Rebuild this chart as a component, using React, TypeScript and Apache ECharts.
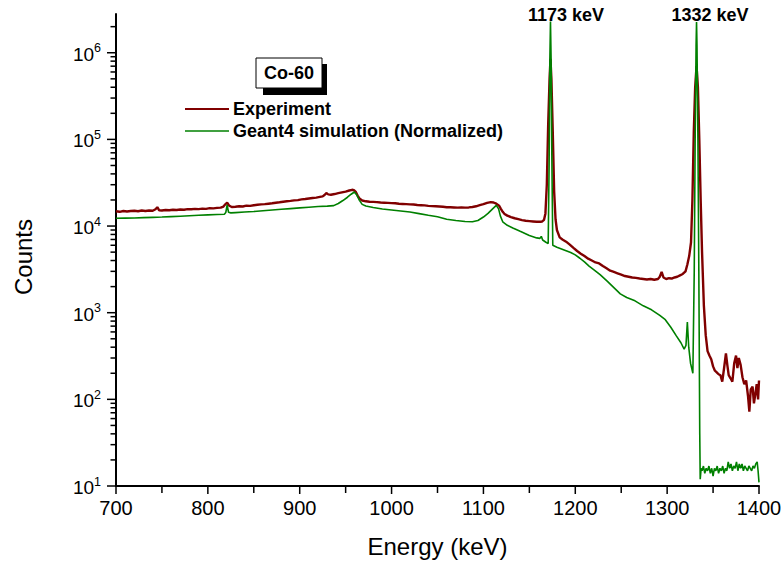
import { useEffect, useRef } from 'react';
import * as echarts from 'echarts';

const FONT = '"Liberation Sans", Arial, Helvetica, sans-serif';

const experiment: [number, number][] = [
  [700,14800],[704,14600],[708,14900],[712,14700],[716,14900],[720,15000],[724,14800],[728,15100],[732,14900],[736,15100],[740,15000],[743,15600],[745,16500],[747,15200],[750,15100],[754,15300],[758,15200],[762,15400],[766,15300],[770,15500],[774,15400],[778,15700],[782,15600],[786,15800],[790,15700],[794,15900],[798,15800],[802,16100],[806,16000],[810,16200],[814,16300],[817,16800],[819,17800],[821,18600],[823,17300],[826,16600],[830,16700],[834,16900],[838,16800],[842,17200],[846,17100],[850,17400],[854,17600],[858,17800],[862,17900],[866,18100],[870,18300],[874,18600],[878,18800],[882,19100],[886,19300],[890,19500],[894,19800],[898,19900],[902,20300],[906,20500],[910,20800],[914,21100],[918,21300],[922,21700],[925,22000],[927,22800],[929,24000],[931,23200],[934,23000],[938,23400],[942,24000],[946,24500],[950,25000],[954,25700],[957,26200],[959,26000],[961,24800],[963,22500],[965,20800],[968,19700],[972,19300],[976,19100],[980,19000],[984,18900],[988,18700],[992,18600],[996,18500],[1000,18400],[1004,18300],[1008,18100],[1012,18000],[1016,17900],[1020,17800],[1024,17700],[1028,17500],[1032,17400],[1036,17300],[1040,17100],[1044,17000],[1048,16900],[1052,16800],[1056,16700],[1060,16500],[1064,16500],[1068,16400],[1072,16300],[1076,16400],[1080,16300],[1084,16400],[1088,16600],[1092,16900],[1096,17400],[1100,17900],[1104,18500],[1108,18900],[1111,18700],[1114,18100],[1117,17200],[1119,15800],[1121,14600],[1123,13800],[1126,13200],[1130,12700],[1134,12300],[1138,12000],[1142,11700],[1146,11500],[1150,11400],[1154,11300],[1158,11200],[1162,11200],[1164,11300],[1166,11800],[1167.5,14000],[1169,30000],[1170.5,150000],[1172,500000],[1173,850000],[1174,500000],[1175.5,120000],[1177,25000],[1178.5,12000],[1180,9000],[1183,7400],[1186,7000],[1190,6600],[1194,6100],[1198,5600],[1202,5150],[1206,4800],[1210,4500],[1214,4200],[1218,4000],[1222,3800],[1226,3700],[1230,3450],[1234,3250],[1238,3050],[1242,2950],[1246,2850],[1250,2750],[1254,2650],[1258,2600],[1262,2550],[1266,2520],[1270,2480],[1274,2450],[1278,2420],[1282,2450],[1286,2400],[1290,2450],[1292,2600],[1294,2950],[1296,2550],[1299,2450],[1302,2500],[1305,2480],[1308,2550],[1311,2600],[1314,2700],[1317,2800],[1320,3000],[1322,3600],[1324,4500],[1326,6500],[1327.5,20000],[1329,120000],[1330.5,400000],[1332,700000],[1333.5,400000],[1335,100000],[1336.5,20000],[1338,5000],[1340,1200],[1342,550],[1344,360],[1346,320],[1348,290],[1350,240],[1352,214],[1354,205],[1356,195],[1358,190],[1360,160],[1362,230],[1364,340],[1365.5,250],[1367,190],[1369,175],[1371,160],[1373,260],[1375,320],[1376.5,230],[1378,300],[1380,250],[1382,180],[1384,150],[1386,165],[1388,110],[1389.5,72],[1391,130],[1393,140],[1394.5,90],[1396,115],[1397.5,150],[1399,100],[1400,165],
];

const simulation: [number, number][] = [
  [700,12300],[710,12350],[720,12400],[730,12500],[740,12600],[750,12700],[760,12850],[770,13000],[780,13150],[790,13300],[800,13450],[810,13600],[818,13700],[819.5,14300],[821,17500],[822.5,14400],[825,14200],[830,14300],[840,14500],[850,14700],[860,15000],[870,15300],[880,15600],[890,15900],[900,16200],[910,16500],[920,16800],[930,17000],[937,17200],[942,18200],[947,19700],[952,21500],[956,23300],[959.5,24700],[962,23000],[965,19800],[968,17800],[972,17000],[980,16400],[990,15700],[1000,15300],[1010,14900],[1020,14500],[1030,13900],[1040,13300],[1050,12800],[1060,12000],[1070,11600],[1080,11300],[1088,11200],[1094,11600],[1100,12700],[1105,14000],[1110,15800],[1114,17300],[1116.5,15800],[1118.5,13000],[1121,11200],[1126,10200],[1132,9500],[1140,8700],[1150,7800],[1158,7300],[1161.5,7200],[1163,7600],[1164.5,6900],[1168,6500],[1170.5,6300],[1171.5,50000],[1172.3,800000],[1173,2300000],[1173.7,800000],[1174.5,60000],[1175.5,6000],[1180,5700],[1185,5450],[1190,5200],[1195,4950],[1200,4650],[1205,4250],[1210,3850],[1215,3450],[1220,3150],[1227,2750],[1235,2300],[1242,1950],[1249,1650],[1256,1500],[1265,1370],[1274,1200],[1283,1080],[1292,930],[1298,830],[1304,680],[1310,540],[1315,450],[1318.5,380],[1320.5,420],[1322,780],[1323.5,400],[1325.5,260],[1328,200],[1329.5,3000],[1330.5,100000],[1331.5,1200000],[1332,2260000],[1332.5,1200000],[1333.5,100000],[1334.5,3000],[1335.5,40],[1336,12],[1337,16],[1338,15],[1339.5,17],[1341,14],[1342.5,16],[1344,15],[1345.5,17],[1347,14],[1348.5,16],[1350,13],[1351.5,16],[1353,15],[1354.5,17],[1356,14],[1357.5,16],[1359,15],[1360.5,17],[1362,14],[1363.5,16],[1365,15],[1366.5,19],[1368,16],[1369.5,18],[1371,15],[1372.5,17],[1374,16],[1375.5,19],[1377,15],[1378.5,18],[1380,16],[1381.5,18],[1383,15],[1384.5,17],[1386,16],[1387.5,15],[1389,17],[1390.5,16],[1392,15],[1393.5,17],[1395,16],[1396.5,18],[1398,19],[1399,15],[1400,11],
];

const xTicks = [700, 750, 800, 850, 900, 950, 1000, 1050, 1100, 1150, 1200, 1250, 1300, 1350, 1400];
const yMajorTicks = [10, 100, 1000, 10000, 100000, 1000000];
const yMinorTicks = [
  20, 30, 40, 50, 60, 70, 80, 90,
  200, 300, 400, 500, 600, 700, 800, 900,
  2000, 3000, 4000, 5000, 6000, 7000, 8000, 9000,
  20000, 30000, 40000, 50000, 60000, 70000, 80000, 90000,
  200000, 300000, 400000, 500000, 600000, 700000, 800000, 900000,
  2000000,
];

const seriesNames = ['Experiment', 'Geant4 simulation (Normalized)'];
const seriesColors = ['#800000', '#008000'];
const sourceLabel = 'Co-60';
const peakLabels = ['1173 keV', '1332 keV'];

export default function App() {
  const ref = useRef<HTMLDivElement>(null);

  useEffect(() => {
    if (!ref.current) return;
    const chart = echarts.init(ref.current, null, { renderer: 'svg' });

    // [x, y, length, direction]  direction 0 = left of y axis, 1 = below x axis
    const tickData = [
      ...yMajorTicks.map((v) => [700, v, 8, 0]),
      ...yMinorTicks.map((v) => [700, v, 4.5, 0]),
      ...xTicks.map((v) => [v, 10, v % 100 === 0 ? 7 : 6, 1]),
    ];

    chart.setOption({
      animation: false,
      backgroundColor: '#ffffff',
      textStyle: { fontFamily: FONT },
      grid: {
        left: 116,
        right: 24,
        top: 14,
        bottom: 81,
        containLabel: false,
        outerBoundsMode: 'none',
      },
      xAxis: {
        type: 'value',
        min: 700,
        max: 1400,
        interval: 50,
        name: 'Energy (keV)',
        nameLocation: 'middle',
        nameGap: 48,
        nameTextStyle: { fontSize: 24, color: '#000', fontFamily: FONT },
        axisLine: { show: true, lineStyle: { color: '#000', width: 2 } },
        axisTick: { show: false },
        splitLine: { show: false },
        axisLabel: {
          fontSize: 20,
          color: '#000',
          margin: 12,
          fontFamily: FONT,
          formatter: (v: number) => (Math.round(v) % 100 === 0 ? String(Math.round(v)) : ''),
        },
      },
      yAxis: {
        type: 'log',
        logBase: 10,
        min: 10,
        max: 2800000,
        axisLine: { show: true, lineStyle: { color: '#000', width: 2 } },
        axisTick: { show: false },
        splitLine: { show: false },
        axisLabel: {
          margin: 15,
          color: '#000',
          formatter: (v: number) => {
            const e = Math.log10(v);
            const r = Math.round(e);
            if (Math.abs(e - r) > 1e-6) return '';
            return `{b|10}{s|${r}}`;
          },
          rich: {
            b: { fontSize: 19, lineHeight: 22, verticalAlign: 'bottom', color: '#000', fontFamily: FONT },
            s: { fontSize: 12.5, lineHeight: 16, verticalAlign: 'top', color: '#000', fontFamily: FONT },
          },
        },
      },
      series: [
        {
          type: 'line',
          name: seriesNames[0],
          data: experiment,
          showSymbol: false,
          symbol: 'none',
          lineStyle: { color: seriesColors[0], width: 2.4 },
          itemStyle: { color: seriesColors[0] },
          z: 2,
        },
        {
          type: 'line',
          name: seriesNames[1],
          data: simulation,
          showSymbol: false,
          symbol: 'none',
          lineStyle: { color: seriesColors[1], width: 1.6 },
          itemStyle: { color: seriesColors[1] },
          z: 3,
        },
        {
          type: 'custom',
          data: tickData,
          clip: false,
          silent: true,
          z: 5,
          renderItem: (_params: any, api: any) => {
            const p = api.coord([api.value(0), api.value(1)]);
            const len = api.value(2);
            const dir = api.value(3);
            const shape =
              dir === 0
                ? { x1: p[0] - 1 - len, y1: p[1], x2: p[0], y2: p[1] }
                : { x1: p[0], y1: p[1], x2: p[0], y2: p[1] + 1 + len };
            return {
              type: 'line',
              shape,
              style: { stroke: '#000', lineWidth: 1.5 },
            };
          },
        },
      ],
      graphic: [
        {
          type: 'text',
          x: 23,
          y: 257,
          rotation: Math.PI / 2,
          style: { text: 'Counts', fontSize: 24, fontFamily: FONT, fill: '#000', align: 'center', verticalAlign: 'middle' },
        },
        {
          type: 'text',
          x: 566,
          y: 15,
          style: { text: peakLabels[0], fontSize: 18, fontWeight: 'bold', fontFamily: FONT, fill: '#000', align: 'center', verticalAlign: 'middle' },
        },
        {
          type: 'text',
          x: 710,
          y: 15,
          style: { text: peakLabels[1], fontSize: 18, fontWeight: 'bold', fontFamily: FONT, fill: '#000', align: 'center', verticalAlign: 'middle' },
        },
        {
          type: 'rect',
          shape: { x: 263, y: 64, width: 64, height: 31 },
          style: { fill: '#000' },
        },
        {
          type: 'rect',
          shape: { x: 256, y: 58, width: 66, height: 30 },
          style: { fill: '#fff', stroke: '#000', lineWidth: 1 },
        },
        {
          type: 'text',
          x: 289,
          y: 73,
          style: { text: sourceLabel, fontSize: 18, fontWeight: 'bold', fontFamily: FONT, fill: '#000', align: 'center', verticalAlign: 'middle' },
        },
        {
          type: 'line',
          shape: { x1: 185, y1: 109, x2: 229, y2: 109 },
          style: { stroke: seriesColors[0], lineWidth: 2.2 },
        },
        {
          type: 'text',
          x: 233,
          y: 109,
          style: { text: seriesNames[0], fontSize: 18, fontWeight: 'bold', fontFamily: FONT, fill: '#000', align: 'left', verticalAlign: 'middle' },
        },
        {
          type: 'line',
          shape: { x1: 185, y1: 131, x2: 229, y2: 131 },
          style: { stroke: seriesColors[1], lineWidth: 1.6 },
        },
        {
          type: 'text',
          x: 233,
          y: 131,
          style: { text: seriesNames[1], fontSize: 18, fontWeight: 'bold', fontFamily: FONT, fill: '#000', align: 'left', verticalAlign: 'middle' },
        },
      ],
    });

    return () => {
      chart.dispose();
    };
  }, []);

  return (
    <div
      ref={ref}
      style={{ position: 'fixed', left: 0, top: 0, width: 783, height: 567, background: '#fff' }}
    />
  );
}
